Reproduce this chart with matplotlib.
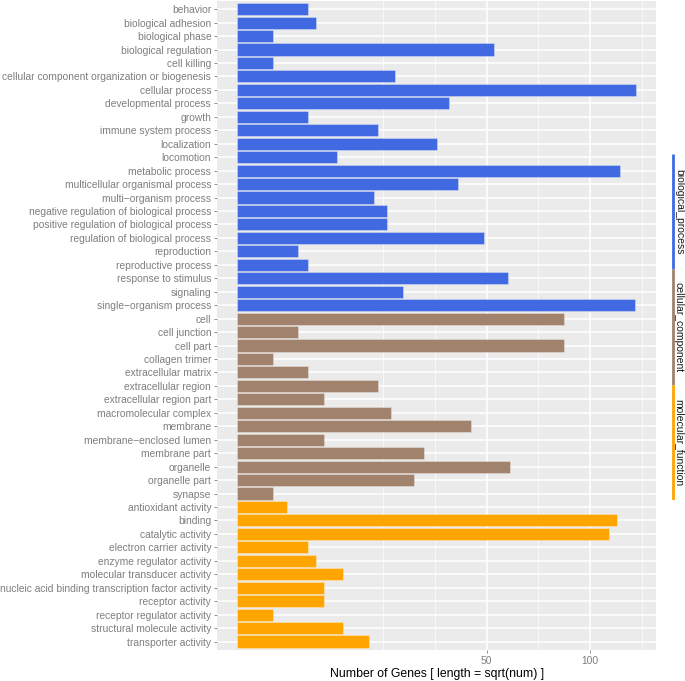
import matplotlib
matplotlib.use("Agg")
import matplotlib.pyplot as plt
import numpy as np

plt.rcParams['font.family'] = ['Liberation Sans', 'DejaVu Sans']

bp_terms = ['behavior', 'biological adhesion', 'biological phase', 'biological regulation',
            'cell killing', 'cellular component organization or biogenesis', 'cellular process',
            'developmental process', 'growth', 'immune system process', 'localization',
            'locomotion', 'metabolic process', 'multicellular organismal process',
            'multi\u2212organism process', 'negative regulation of biological process',
            'positive regulation of biological process', 'regulation of biological process',
            'reproduction', 'reproductive process', 'response to stimulus', 'signaling',
            'single\u2212organism process']
bp_counts = [4, 5, 1, 53, 1, 20, 128, 36, 4, 16, 32, 8, 118, 39, 15, 18, 18, 49, 3, 4, 59, 22, 127]

cc_terms = ['cell', 'cell junction', 'cell part', 'collagen trimer', 'extracellular matrix',
            'extracellular region', 'extracellular region part', 'macromolecular complex',
            'membrane', 'membrane\u2212enclosed lumen', 'membrane part', 'organelle',
            'organelle part', 'synapse']
cc_counts = [86, 3, 86, 1, 4, 16, 6, 19, 44, 6, 28, 60, 25, 1]

mf_terms = ['antioxidant activity', 'binding', 'catalytic activity', 'electron carrier activity',
            'enzyme regulator activity', 'molecular transducer activity',
            'nucleic acid binding transcription factor activity', 'receptor activity',
            'receptor regulator activity', 'structural molecule activity', 'transporter activity']
mf_counts = [2, 116, 111, 4, 5, 9, 6, 6, 1, 9, 14]

groups = ['biological_process', 'cellular_component', 'molecular_function']
group_colors = ['#4169E1', '#A0826D', '#FFA500']

terms = bp_terms + cc_terms + mf_terms
counts = np.array(bp_counts + cc_counts + mf_counts)
colors = ([group_colors[0]] * len(bp_terms) + [group_colors[1]] * len(cc_terms)
          + [group_colors[2]] * len(mf_terms))

W, H = 685, 681
fig = plt.figure(figsize=(W / 100, H / 100), dpi=100)
ax = fig.add_axes([217.3 / W, 1 - 649.6 / H, (656.3 - 217.3) / W, (649.6 - 1.1) / H])
ax.set_facecolor('#EBEBEB')

y = np.arange(len(terms))
lengths = np.sqrt(counts)

# grid (drawn in sqrt space like ggplot's scale_x_sqrt)
major = np.sqrt([50, 100])
step = major[1] - major[0]
minor = [major[0] - step, major[0] - step / 2, major[0] + step / 2, major[1] + step / 2]
for m in minor:
    ax.axvline(m, color='white', lw=0.5, zorder=0)
for m in major:
    ax.axvline(m, color='white', lw=1.1, zorder=0)
for yy in y:
    ax.axhline(yy, color='white', lw=1.1, zorder=0)

ax.barh(y, lengths, height=0.9, color=colors, edgecolor=(1, 1, 1, 0.35), linewidth=0.6, zorder=2)

smax = lengths.max()
ax.set_xlim(-0.05 * smax, smax * 1.05)
ax.set_ylim(len(terms) - 1 + 0.6, -0.6)

ax.set_yticks(y)
ax.set_yticklabels(terms)
ax.set_xticks(major)
ax.set_xticklabels(['50', '100'])
ax.tick_params(axis='both', colors='#7F7F7F', labelsize=7.4, length=2.2, width=0.6, pad=2.2)
for s in ax.spines.values():
    s.set_visible(False)
ax.set_xlabel('Number of Genes [ length = sqrt(num) ]', fontsize=8.85, color='black', labelpad=1.5)

# group key on the right
lax = fig.add_axes([665 / W, 1 - 500 / H, 20 / W, (500 - 154) / H])
lax.set_xlim(0, 1)
lax.set_ylim(3, 0)
lax.axis('off')
for i, (g, c) in enumerate(zip(groups, group_colors)):
    lax.plot([0.38, 0.38], [i, i + 1], color=c, lw=2, solid_capstyle='butt')
    lax.text(0.70, i + 0.5, g, rotation=270, ha='center', va='center',
             fontsize=7.5, color='#1A1A1A', clip_on=False)

fig.savefig('out.png', dpi=100)
